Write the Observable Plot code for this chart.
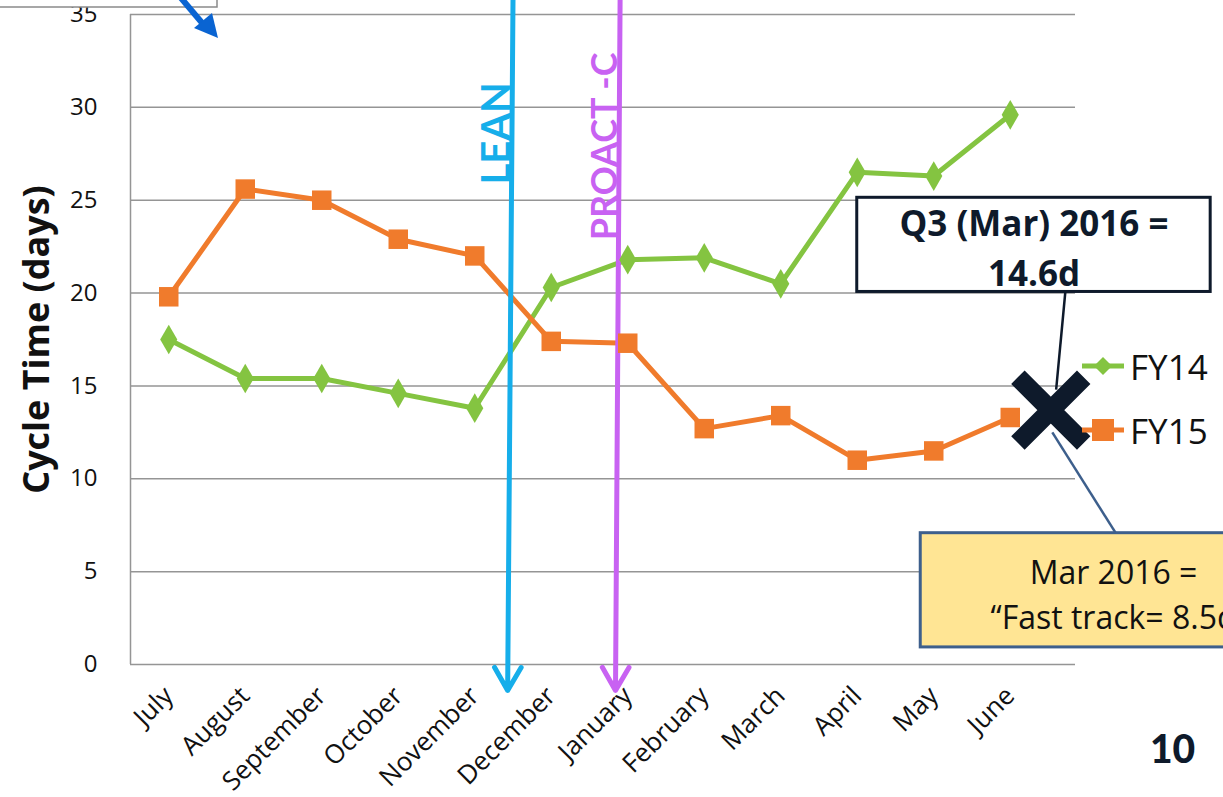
<!DOCTYPE html>
<html>
<head>
<meta charset="utf-8">
<script src="https://cdn.jsdelivr.net/npm/d3@7"></script>
<script src="https://cdn.jsdelivr.net/npm/@observablehq/plot@0.6"></script>
<style>
  html, body { margin: 0; padding: 0; background: #fff; }
  #wrap { position: relative; width: 1223px; height: 797px; overflow: hidden; }
  #chart svg { display: block; }
  .legend { position: absolute; left: 1080px; top: 334px; font-family: "Open Sans", sans-serif; font-size: 35px; color: #111; }
  .legend .item { display: flex; align-items: center; height: 64px; }
  .legend svg { margin-right: 4px; }
  .pagenum { position: absolute; left: 1150px; top: 725px; font-family: Lato, "Open Sans", sans-serif; font-weight: 900; font-size: 39px; color: #0e1a2b; }
  .corner { position: absolute; left: 0; top: 0; }
</style>
</head>
<body>
<div id="wrap">
  <div id="chart"></div>
</div>
<script>
// ---- data ----
const months = ["July","August","September","October","November","December","January","February","March","April","May","June"];
const fy14 = [17.5, 15.4, 15.4, 14.6, 13.8, 20.3, 21.8, 21.9, 20.5, 26.5, 26.3, 29.6];
const fy15 = [19.8, 25.6, 25.0, 22.9, 22.0, 17.4, 17.3, 12.7, 13.4, 11.0, 11.5, 13.3];
const seriesNames = ["FY14", "FY15"];
const yTicks = [0, 5, 10, 15, 20, 25, 30, 35];
const yLabel = "Cycle Time (days)";

// interventions (x in month index, drawn from top to bottom)
const eventNames = ["LEAN", "PROACT -C"];
const eventTopX = [4.5, 5.9];
const eventBottomX = [4.43, 5.84];
const eventLabelY = [28.6, 27.9];

// annotation of Q3 (Mar) 2016
const q3Point = {x: 11.53, y: 13.7};
const q3Text = "Q3 (Mar) 2016 =\n14.6d";
const fastText = "Mar 2016 =\n\u201CFast track= 8.5d";
const pageNumber = "10";

// ---- build tables ----
const rows14 = months.map((m, i) => ({i, month: m, value: fy14[i]}));
const rows15 = months.map((m, i) => ({i, month: m, value: fy15[i]}));
const events = eventNames.map((name, k) => ({name, x1: eventTopX[k], x2: eventBottomX[k], ly: eventLabelY[k]}));

const green = "#84c441";
const orange = "#f07b2c";
const eventColors = ["#16aeea", "#c862f2"];
const navy = "#0e1a2b";

const chart = Plot.plot({
  width: 1223,
  height: 797,
  marginLeft: 130,
  marginRight: 175,
  marginTop: 14,
  marginBottom: 133,
  style: {fontFamily: "Open Sans, sans-serif", fontSize: "22px", color: "#111", background: "#fff", overflow: "visible"},
  x: {domain: [-0.5, 11.5]},
  y: {domain: [0, 35]},
  marks: [
    Plot.ruleY(yTicks, {stroke: "#959595", strokeWidth: 1.5, insetRight: -27}),
    Plot.ruleX([-0.5], {stroke: "#959595", strokeWidth: 1.5}),
    Plot.axisY({ticks: yTicks, tickSize: 0, tickPadding: 33, fontSize: 24, label: null}),
    Plot.axisX({ticks: d3.range(12), tickFormat: i => months[i], tickSize: 0, tickPadding: 27, tickRotate: -45, fontSize: 26, label: null}),
    Plot.text([yLabel], {frameAnchor: "left", text: d => d, rotate: -90, textAnchor: "middle", dx: -93, fontWeight: "bold", fontSize: 36, fill: "#111"}),
    // series lines
    Plot.line(rows14, {x: "i", y: "value", stroke: green, strokeWidth: 5}),
    Plot.line(rows15, {x: "i", y: "value", stroke: orange, strokeWidth: 5}),
    // intervention arrows + labels
    Plot.arrow(events, {x1: "x1", x2: "x2", y1: () => 35.8, y2: () => -1.4, stroke: (d, k) => eventColors[k], strokeWidth: 5}),
    Plot.text(events, {x: "x1", y: "ly", text: "name", rotate: -90, lineAnchor: "bottom", dx: -3, fontWeight: "bold", fontSize: (d, k) => [40, 36][k], fill: (d, k) => eventColors[k], fontFamily: "Lato, Open Sans, sans-serif"}),
    // markers
    Plot.dot(rows14, {x: "i", y: "value", symbol: "diamond", r: 9, fill: green, stroke: null}),
    Plot.dot(rows15, {x: "i", y: "value", symbol: "square", r: 11, fill: orange, stroke: null}),
    // annotations
    Plot.link([{x1: 11.72, y1: 20.06, x2: 11.6, y2: 14.8}], {x1: "x1", y1: "y1", x2: "x2", y2: "y2", stroke: navy, strokeWidth: 2.5}),
    Plot.link([{x1: 11.55, y1: 12.5, x2: 12.38, y2: 7.07}], {x1: "x1", y1: "y1", x2: "x2", y2: "y2", stroke: "#3d5f8c", strokeWidth: 2.5}),
    Plot.dot([q3Point], {x: "x", y: "y", symbol: "times", r: 30, stroke: navy, strokeWidth: 19}),
    Plot.rect([{x1: 9.0, x2: 13.62, y1: 20.06, y2: 25.13}], {x1: "x1", x2: "x2", y1: "y1", y2: "y2", fill: "#fff", stroke: navy, strokeWidth: 3}),
    Plot.text([q3Text], {x: () => 11.31, y: () => 22.6, text: d => d, lineHeight: 1.45, fontWeight: "bold", fontSize: 35, fill: navy}),
    Plot.rect([{x1: 9.83, x2: 14.8, y1: 0.92, y2: 7.07}], {x1: "x1", x2: "x2", y1: "y1", y2: "y2", fill: "#ffe594", stroke: "#3d5f8c", strokeWidth: 3}),
    Plot.text([fastText], {x: () => 12.35, y: () => 3.91, text: d => d, lineHeight: 1.4, fontSize: 32, fill: "#111"})
  ]
});
document.getElementById("chart").appendChild(chart);

// legend (HTML, placed over the chart's right side)
const wrap = document.getElementById("wrap");
const legend = document.createElement("div");
legend.className = "legend";
const swatch = (name) => name === "FY14"
  ? `<svg width="46" height="24"><line x1="2" y1="12" x2="44" y2="12" stroke="${green}" stroke-width="5"/><path d="M23 3 L32 12 L23 21 L14 12 Z" fill="${green}"/></svg>`
  : `<svg width="46" height="24"><line x1="2" y1="12" x2="44" y2="12" stroke="${orange}" stroke-width="5"/><rect x="12" y="1" width="22" height="22" fill="${orange}"/></svg>`;
legend.innerHTML = seriesNames.map(n => `<div class="item">${swatch(n)}<span>${n}</span></div>`).join("");
wrap.appendChild(legend);

// page number
const pn = document.createElement("div");
pn.className = "pagenum";
pn.textContent = pageNumber;
wrap.appendChild(pn);

// fragment of a callout box + arrow at the top-left corner
const corner = document.createElementNS("http://www.w3.org/2000/svg", "svg");
corner.setAttribute("class", "corner");
corner.setAttribute("width", "240");
corner.setAttribute("height", "45");
corner.innerHTML = `<rect x="-10" y="-10" width="227" height="17" fill="#fff" stroke="#8a8a8a" stroke-width="1.5"/>
  <line x1="181" y1="-2" x2="203" y2="24" stroke="#0a64d2" stroke-width="6"/>
  <path d="M194 28 L212 13 L218 38 Z" fill="#0a64d2"/>`;
wrap.appendChild(corner);
</script>
</body>
</html>
